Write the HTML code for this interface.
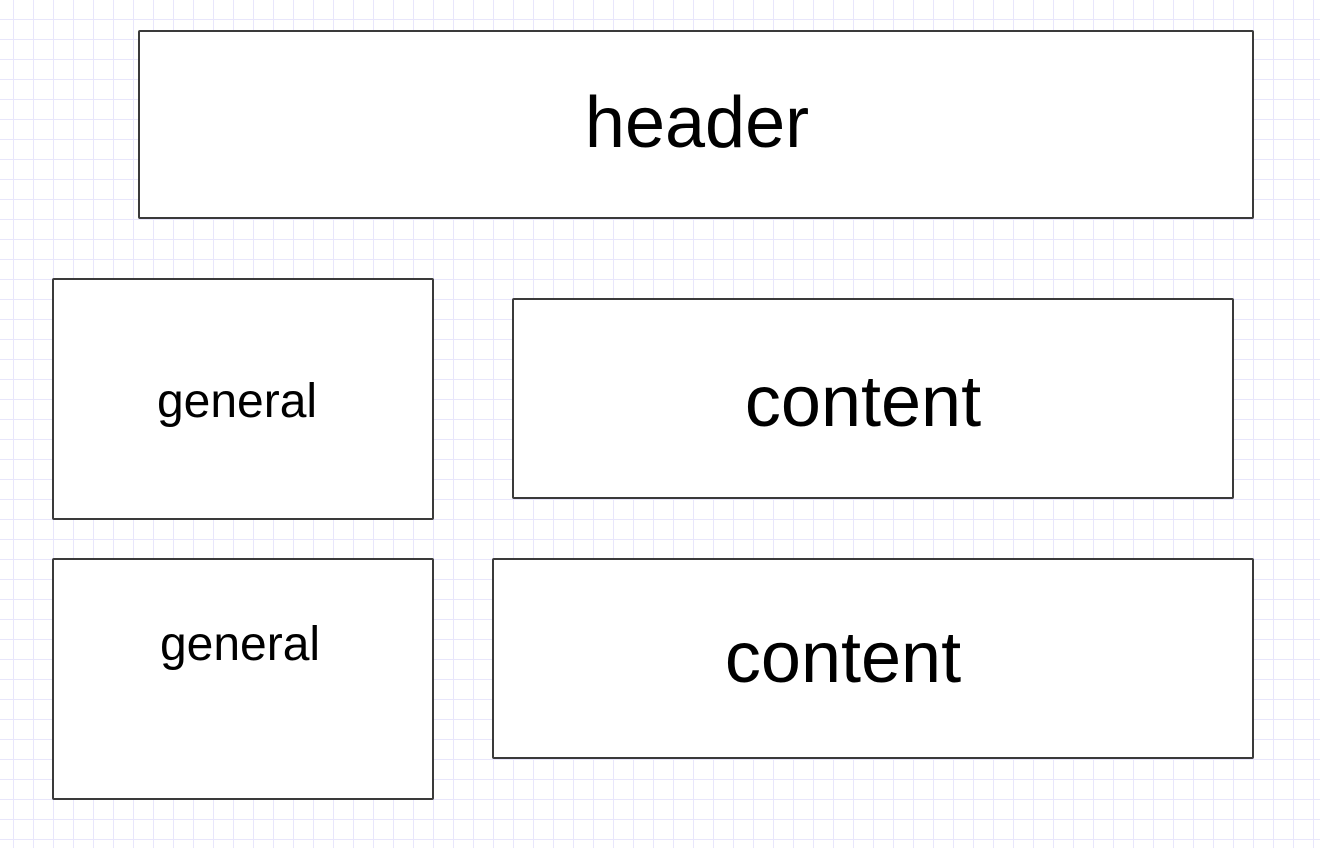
<!DOCTYPE html>
<html><head><style>
body{margin:0;width:1320px;height:848px;overflow:hidden;background-color:#fff;
background-image:linear-gradient(to right,#e8e6fb 1px,transparent 1px),linear-gradient(to bottom,#e8e6fb 1px,transparent 1px);
background-size:20px 20px;background-position:13px 19px;position:relative;font-family:"Liberation Sans",sans-serif;}
.b{position:absolute;background:#fff;border:2px solid #3a3a3a;box-sizing:border-box;color:#000;border-radius:2px}
.t{position:absolute;transform:translateX(-50%);white-space:nowrap;line-height:1}
</style></head><body>
<div class="b" style="left:138px;top:30px;width:1116px;height:189px;"></div>
<div class="t" style="left:697px;top:87px;font-size:72px;">header</div>
<div class="b" style="left:52px;top:278px;width:382px;height:242px;"></div>
<div class="t" style="left:237px;top:378px;font-size:48px;">general</div>
<div class="b" style="left:512px;top:298px;width:722px;height:201px;"></div>
<div class="t" style="left:863px;top:366px;font-size:72px;">content</div>
<div class="b" style="left:52px;top:558px;width:382px;height:242px;"></div>
<div class="t" style="left:240px;top:621px;font-size:48px;">general</div>
<div class="b" style="left:492px;top:558px;width:762px;height:201px;"></div>
<div class="t" style="left:843px;top:622px;font-size:72px;">content</div>
</body></html>
